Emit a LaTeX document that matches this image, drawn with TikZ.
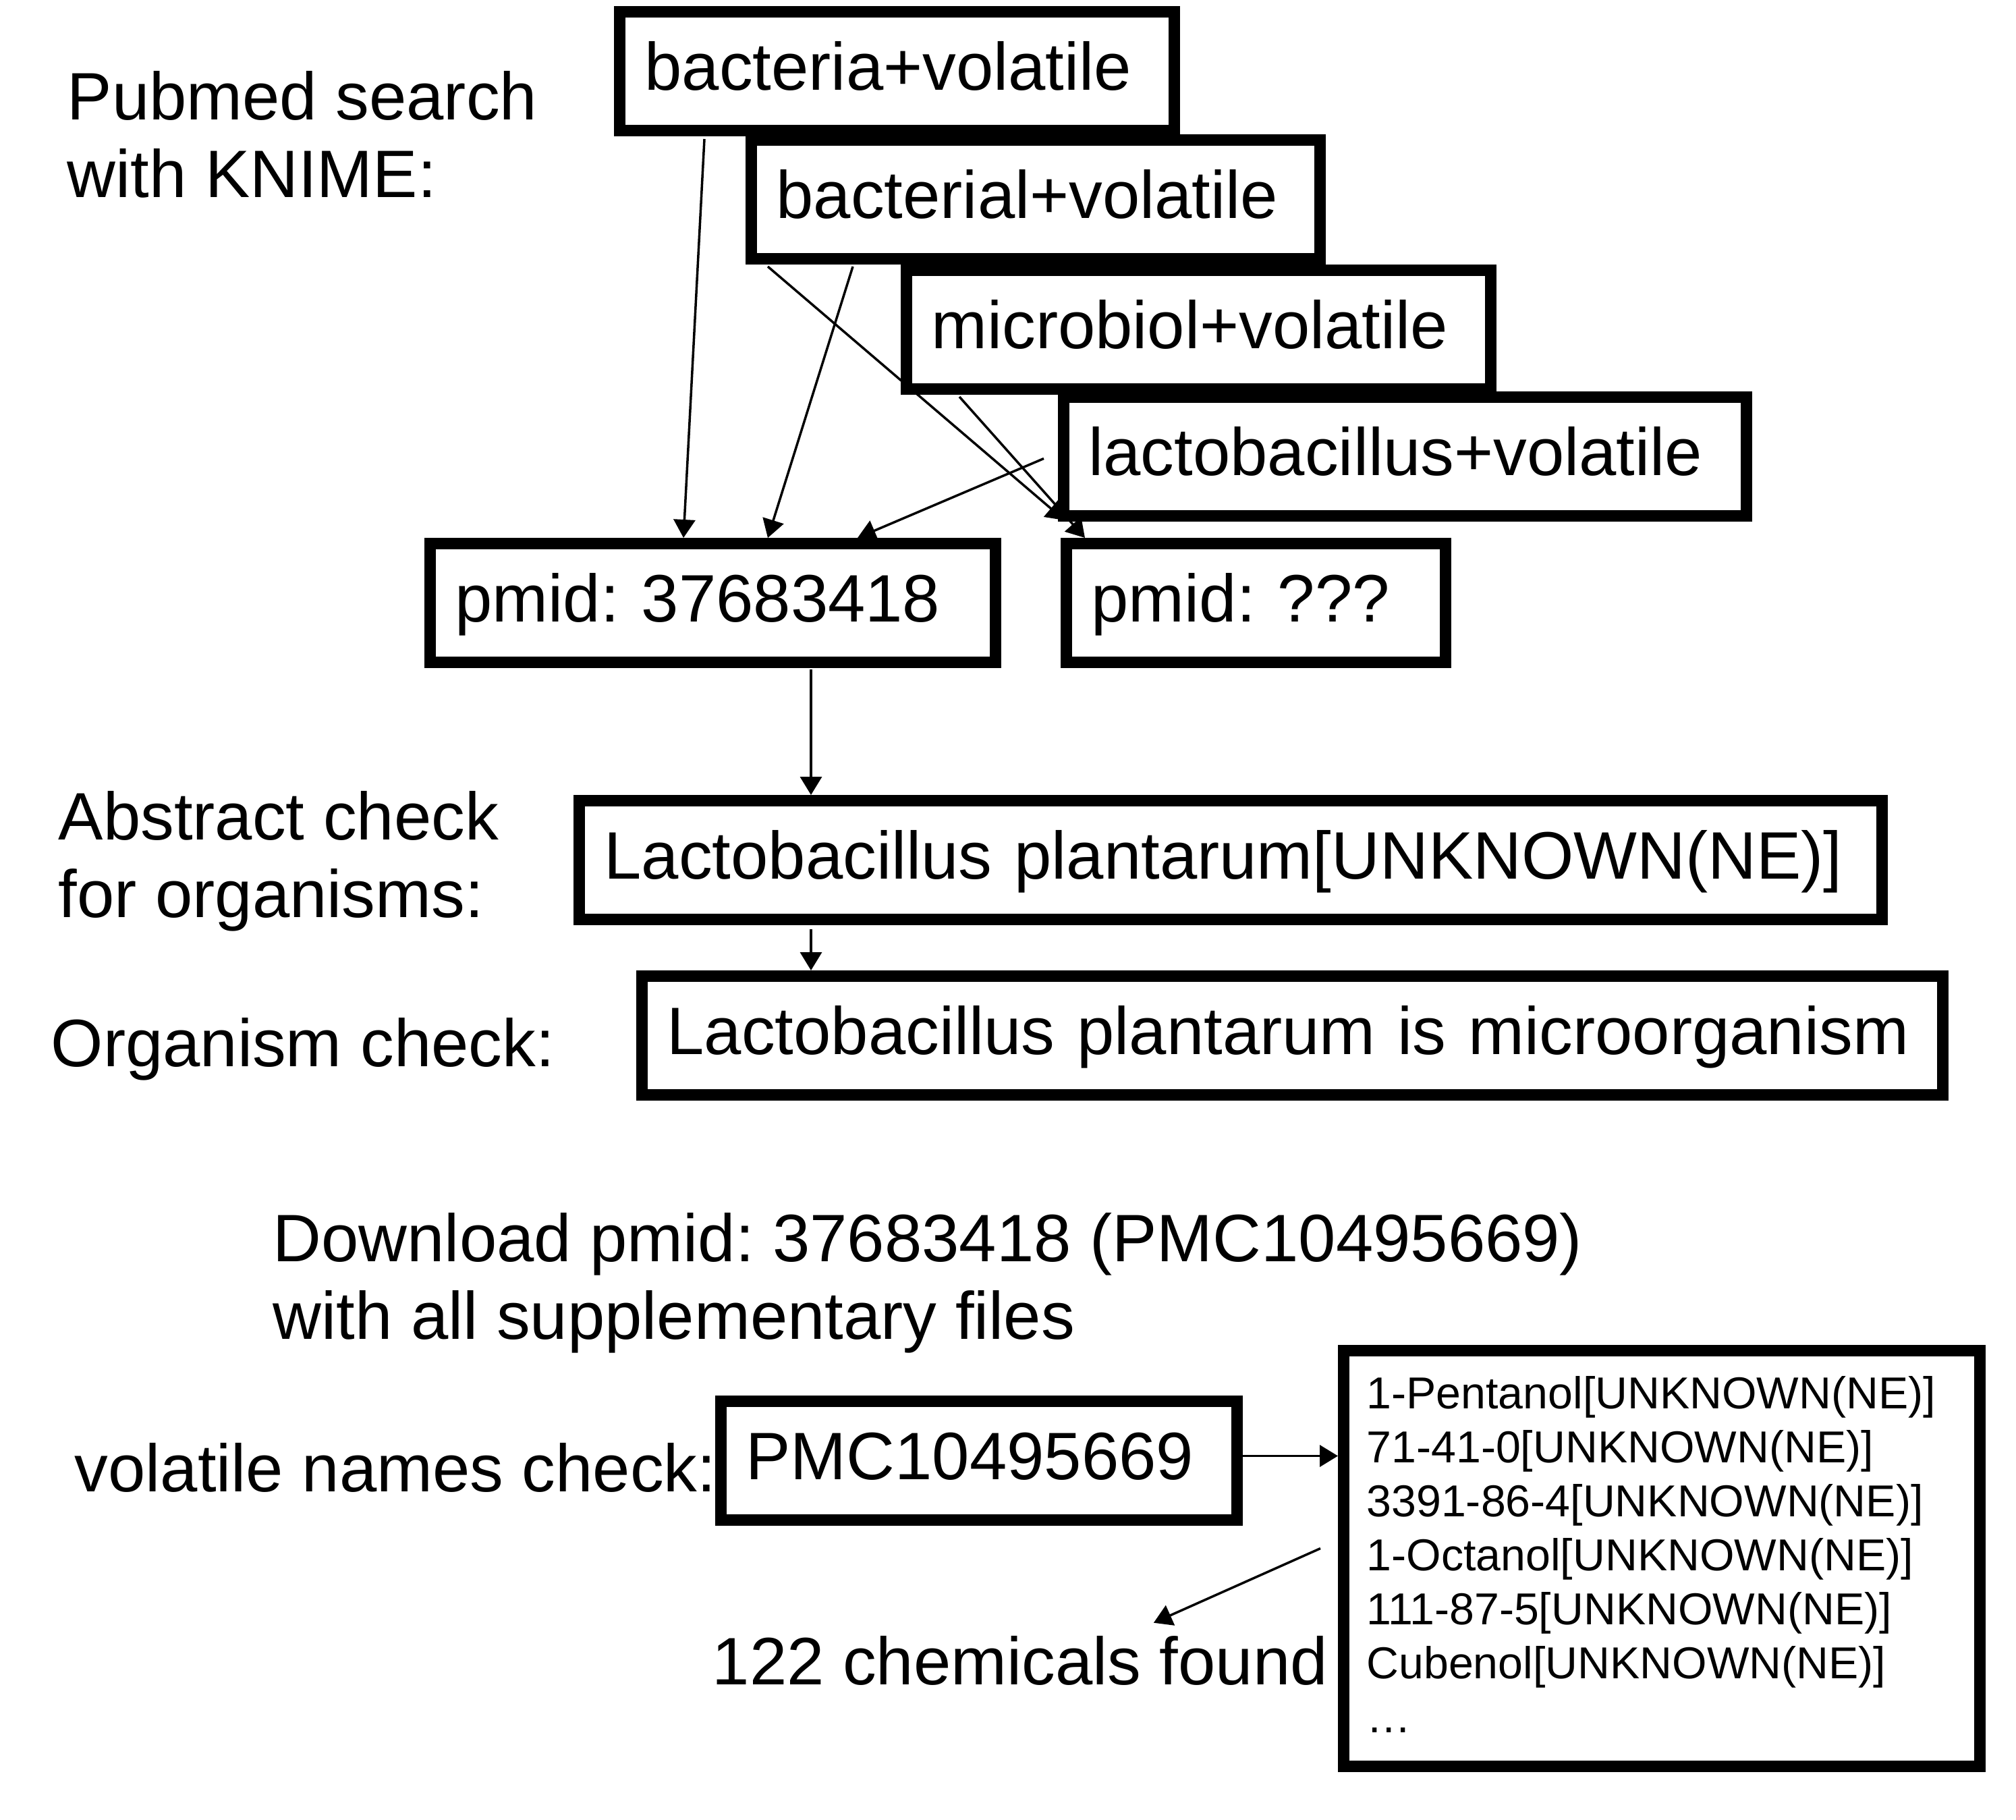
\documentclass[tikz,border=0pt]{standalone}
\usepackage{fontspec}
\setmainfont{Liberation Sans}
\frenchspacing
\usetikzlibrary{arrows.meta,calc}
\tikzset{
  rectbox/.style={draw, line width=0.17cm, anchor=north west, inner ysep=0pt, align=left},
  box/.style={rectbox, inner xsep=0.37cm, minimum height=1.76cm, text height=0.75cm, text depth=0.19cm, font=\fontsize{28.3}{32.7}\selectfont},
  listbox/.style={rectbox, inner xsep=0.34cm, minimum height=6.16cm, font=\fontsize{18.86}{22.76}\selectfont},
  lbl/.style={inner sep=0pt, align=left, font=\fontsize{28.3}{32.7}\selectfont},
  arr/.style={line width=0.035cm, -{Triangle[length=0.27cm,width=0.32cm]}}
}
\begin{document}
\begin{tikzpicture}
\useasboundingbox (0,0) rectangle (29.88,-26.96);
\node[box, text width=7.48cm] (bv1) at (9.10,-0.09) {bacteria+volatile};
\node[box, text width=7.69cm] (bv2) at (11.05,-1.99) {bacterial+volatile};
\node[box, text width=7.92cm] (mv) at (13.35,-3.92) {microbiol+volatile};
\node[box, text width=9.38cm] (lv) at (15.68,-5.80) {lactobacillus+volatile};
\node[box, text width=7.64cm] (pm1) at (6.29,-7.97) {pmid: 37683418};
\node[box, text width=4.88cm] (pm2) at (15.72,-7.97) {pmid: ???};
\node[box, text width=18.57cm] (lp1) at (8.50,-11.78) {Lactobacillus plantarum[UNKNOWN(NE)]};
\node[box, text width=18.54cm] (lp2) at (9.43,-14.38) {Lactobacillus plantarum is microorganism};
\node[box, text width=6.91cm] (pmc) at (10.60,-20.68) {PMC10495669};
\node[listbox, text width=8.75cm] (list) at (19.83,-19.93) {1-Pentanol[UNKNOWN(NE)]\\71-41-0[UNKNOWN(NE)]\\3391-86-4[UNKNOWN(NE)]\\1-Octanol[UNKNOWN(NE)]\\111-87-5[UNKNOWN(NE)]\\Cubenol[UNKNOWN(NE)]\\\ldots\rule[-0.12cm]{0pt}{0pt}};
\node[lbl, anchor=north west] (pubmed) at (0.99,-1.05) {Pubmed search\\with KNIME:};
\node[lbl, anchor=north west] (abstr) at (0.86,-11.72) {Abstract check\\for organisms:};
\node[lbl, anchor=base west] (orgchk) at (0.75,-15.80) {Organism check:};
\node[lbl, anchor=north west] (dl) at (4.04,-17.97) {Download pmid: 37683418 (PMC10495669)\\with all supplementary files};
\node[lbl, anchor=base west] (names) at (1.10,-22.10) {volatile names check:};
\node[lbl, anchor=base west] (found) at (10.55,-24.96) {122 chemicals found};
\draw[arr] ($(bv1.south west)+(1.34,-0.04)$) -- ($(pm1.north west)+(3.84,0)$);
\draw[arr] ($(bv2.south west)+(1.59,-0.03)$) -- ($(pm1.north west)+(5.09,0)$);
\draw[arr] ($(bv2.south west)+(0.33,-0.03)$) -- ($(pm2.north west)+(0.06,0.26)$);
\draw[arr] ($(mv.south west)+(0.87,-0.03)$) -- ($(pm2.north west)+(0.36,0)$);
\draw[arr] ($(lv.west)+(-0.21,-0.03)$) -- ($(pm1.north west)+(6.42,0)$);
\coordinate (f1) at ($(pm1.south west)+(5.73,-0.02)$);
\draw[arr] (f1) -- (f1 |- lp1.north);
\coordinate (g1) at ($(f1 |- lp1.south)+(0,-0.06)$);
\draw[arr] (g1) -- (g1 |- lp2.north);
\coordinate (h1) at ($(pmc.east)+(0,0.07)$);
\draw[arr] (h1) -- (h1 -| list.west);
\draw[arr] ($(list.west)+(-0.26,0.15)$) -- ($(found.north)+(1.98,0.185)$);
\end{tikzpicture}
\end{document}
